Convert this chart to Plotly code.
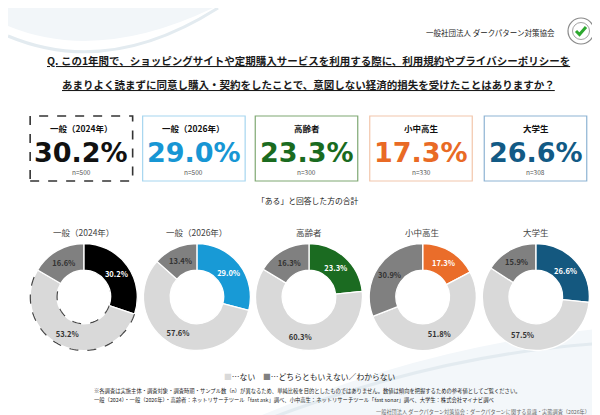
import numpy as np
import plotly.graph_objects as go

# ---------------- data ----------------
groups = ["一般（2024年）", "一般（2026年）", "高齢者", "小中高生", "大学生"]
answer_labels = ["ある", "ない", "どちらともいえない／わからない"]
yes_vals = [30.2, 29.0, 23.3, 17.3, 26.6]
no_vals = [53.2, 57.6, 60.3, 51.8, 57.5]
unsure_vals = [16.6, 13.4, 16.3, 30.9, 15.9]
sample_n = [500, 500, 300, 330, 308]

title_l1 = "Q. この1年間で、ショッピングサイトや定期購入サービスを利用する際に、利用規約やプライバシーポリシーを"
title_l2 = "あまりよく読まずに同意し購入・契約をしたことで、意図しない経済的損失を受けたことはありますか？"
org_name = "一般社団法人 ダークパターン対策協会"
subtitle = "「ある」と回答した方の合計"
note1 = "※各調査は実施主体・調査対象・調査時期・サンプル数（n）が異なるため、単純比較を目的としたものではありません。数値は傾向を把握するための参考値としてご覧ください。"
note2 = "一般（2024）・一般（2026年）・高齢者：ネットリサーチツール「fast ask」調べ、小中高生：ネットリサーチツール「fast sonar」調べ、大学生：株式会社マイナビ調べ"
source = "一般社団法人 ダークパターン対策協会：ダークパターンに関する意識・実態調査（2026年）"

# ---------------- style ----------------
W, H = 600, 415
JP = "Noto Sans CJK JP"
accent = ["#000000", "#189ad6", "#1b6b21", "#ea6d2a", "#14587f"]
box_line = ["#333333", "#a6d6f0", "#7fa873", "#f2c6ab", "#8db3d3"]
value_col = ["#111111", "#1796d4", "#1a6b1f", "#e96a25", "#125a85"]
light_gray = "#d9d9d9"
dark_gray = "#808080"

def px(x):
    return x / W

def py(y):
    return 1 - y / H

box_cx = [73.4, 185.9, 298.5, 413.0, 527.5]
box_w = 102.5
box_top, box_bot = 108, 173
donut_cx = [75.8, 188.9, 301.0, 414.7, 527.8]
donut_cy = 289
donut_r = 53.5
hole = 0.5

fig = go.Figure()
shapes = []
annotations = []

# background swooshes
shapes.append(dict(type="path", xref="paper", yref="paper", layer="below",
                   path=f"M 0,{py(18)} Q {px(90)},{py(55)} {px(205)},{py(0)} L 0,{py(0)} Z",
                   fillcolor="#f2f6f9", line=dict(width=0)))
shapes.append(dict(type="path", xref="paper", yref="paper", layer="below",
                   path=f"M 0,{py(28)} Q {px(100)},{py(70)} {px(210)},{py(0)}",
                   line=dict(color="#e3ebf0", width=3)))
shapes.append(dict(type="path", xref="paper", yref="paper", layer="below",
                   path=f"M {px(235)},{py(415)} Q {px(420)},{py(335)} {px(600)},{py(320)} L {px(600)},{py(415)} Z",
                   fillcolor="#f3f7fa", line=dict(width=0)))
shapes.append(dict(type="path", xref="paper", yref="paper", layer="below",
                   path=f"M {px(250)},{py(415)} Q {px(430)},{py(345)} {px(600)},{py(335)}",
                   line=dict(color="#e3ebf0", width=3)))

# logo
lcx, lcy = 573, 23
shapes.append(dict(type="circle", xref="paper", yref="paper",
                   x0=px(lcx - 13), x1=px(lcx + 13), y0=py(lcy + 13), y1=py(lcy - 13),
                   line=dict(color="#8a8a8a", width=1.2), fillcolor="white"))
shapes.append(dict(type="circle", xref="paper", yref="paper",
                   x0=px(lcx - 8.5), x1=px(lcx + 8.5), y0=py(lcy + 8.5), y1=py(lcy - 8.5),
                   line=dict(color="#8a8a8a", width=0.8), fillcolor="white"))
shapes.append(dict(type="path", xref="paper", yref="paper",
                   path=f"M {px(lcx-5)},{py(lcy)} L {px(lcx-1.5)},{py(lcy+3.5)} L {px(lcx+5)},{py(lcy-4)}",
                   line=dict(color="#2da82f", width=3)))

# header / title
annotations.append(dict(text=org_name, x=px(549), y=py(24), xref="paper", yref="paper",
                        xanchor="right", yanchor="middle", showarrow=False,
                        font=dict(family=JP, size=7.5, color="#222")))
annotations.append(dict(text=f"<b><u>{title_l1}</u></b>", x=0.5, y=py(53), xref="paper", yref="paper",
                        xanchor="center", yanchor="middle", showarrow=False,
                        font=dict(family=JP, size=10.5, color="#1a1a1a")))
annotations.append(dict(text=f"<b><u>{title_l2}</u></b>", x=0.5, y=py(76), xref="paper", yref="paper",
                        xanchor="center", yanchor="middle", showarrow=False,
                        font=dict(family=JP, size=10.5, color="#1a1a1a")))

# summary boxes
for i, g in enumerate(groups):
    cx = box_cx[i]
    shapes.append(dict(type="rect", xref="paper", yref="paper",
                       x0=px(cx - box_w / 2), x1=px(cx + box_w / 2), y0=py(box_bot), y1=py(box_top),
                       line=dict(color=box_line[i], width=1.6 if i == 0 else 1.2,
                                 dash="dash" if i == 0 else "solid"),
                       fillcolor="white"))
    annotations.append(dict(text=f"<b>{g}</b>", x=px(cx), y=py(120.5), xref="paper", yref="paper",
                            xanchor="center", yanchor="middle", showarrow=False,
                            font=dict(family=JP, size=8.5, color="#111")))
    annotations.append(dict(text=f"<b>{yes_vals[i]:.1f}%</b>", x=px(cx), y=py(144), xref="paper", yref="paper",
                            xanchor="center", yanchor="middle", showarrow=False,
                            font=dict(family="DejaVu Sans", size=27, color=value_col[i])))
    annotations.append(dict(text=f"n={sample_n[i]}", x=px(cx), y=py(164), xref="paper", yref="paper",
                            xanchor="center", yanchor="middle", showarrow=False,
                            font=dict(family=JP, size=6.5, color="#555")))

annotations.append(dict(text=subtitle, x=0.5, y=py(192), xref="paper", yref="paper",
                        xanchor="center", yanchor="middle", showarrow=False,
                        font=dict(family=JP, size=7.8, color="#222")))

# donuts
for i, g in enumerate(groups):
    cx = donut_cx[i]
    vals = [yes_vals[i], no_vals[i], unsure_vals[i]]
    fig.add_trace(go.Pie(
        labels=answer_labels, values=vals, hole=hole, sort=False, direction="clockwise",
        rotation=0,
        marker=dict(colors=[accent[i], light_gray, dark_gray], line=dict(color="white", width=1.3)),
        texttemplate="<b>%{value:.1f}%</b>", textposition="inside", insidetextorientation="horizontal",
        textfont=dict(family=JP, size=7.5, color=["white", "#333333", "#333333"]),
        domain=dict(x=[px(cx - donut_r), px(cx + donut_r)], y=[py(donut_cy + donut_r), py(donut_cy - donut_r)]),
        hoverinfo="label+value", showlegend=False,
    ))
    annotations.append(dict(text=g, x=px(cx), y=py(224), xref="paper", yref="paper",
                            xanchor="center", yanchor="middle", showarrow=False,
                            font=dict(family=JP, size=8.5, color="#444")))

# dashed outline around the "ない" slice of the 2024 donut
a0 = yes_vals[0] / 100 * 2 * np.pi
a1 = (yes_vals[0] + no_vals[0]) / 100 * 2 * np.pi
th = np.linspace(a0, a1, 80)
for R in (donut_r, donut_r * hole):
    xs = donut_cx[0] + R * np.sin(th)
    ys = donut_cy - R * np.cos(th)
    path = "M " + " L ".join(f"{px(x):.5f},{py(y):.5f}" for x, y in zip(xs, ys))
    shapes.append(dict(type="path", xref="paper", yref="paper", path=path,
                       line=dict(color="#444", width=1.2, dash="dash")))

# legend
legend_txt = (f"<span style='color:{light_gray}'>■</span>…ない　"
              f"<span style='color:{dark_gray}'>■</span>…どちらともいえない／わからない")
annotations.append(dict(text=legend_txt, x=px(302), y=py(368), xref="paper", yref="paper",
                        xanchor="center", yanchor="middle", showarrow=False,
                        font=dict(family=JP, size=7.8, color="#222")))

# footnotes
annotations.append(dict(text=note1, x=px(84), y=py(383), xref="paper", yref="paper",
                        xanchor="left", yanchor="middle", showarrow=False,
                        font=dict(family=JP, size=5.3, color="#222")))
annotations.append(dict(text=note2, x=px(84), y=py(391.5), xref="paper", yref="paper",
                        xanchor="left", yanchor="middle", showarrow=False,
                        font=dict(family=JP, size=5.3, color="#222")))
annotations.append(dict(text=source, x=px(366), y=py(404), xref="paper", yref="paper",
                        xanchor="left", yanchor="middle", showarrow=False,
                        font=dict(family=JP, size=5.2, color="#666")))

fig.update_layout(
    width=W, height=H, margin=dict(l=0, r=0, t=0, b=0),
    paper_bgcolor="white", plot_bgcolor="white",
    shapes=shapes, annotations=annotations, showlegend=False,
)

fig.write_html("out.html")
